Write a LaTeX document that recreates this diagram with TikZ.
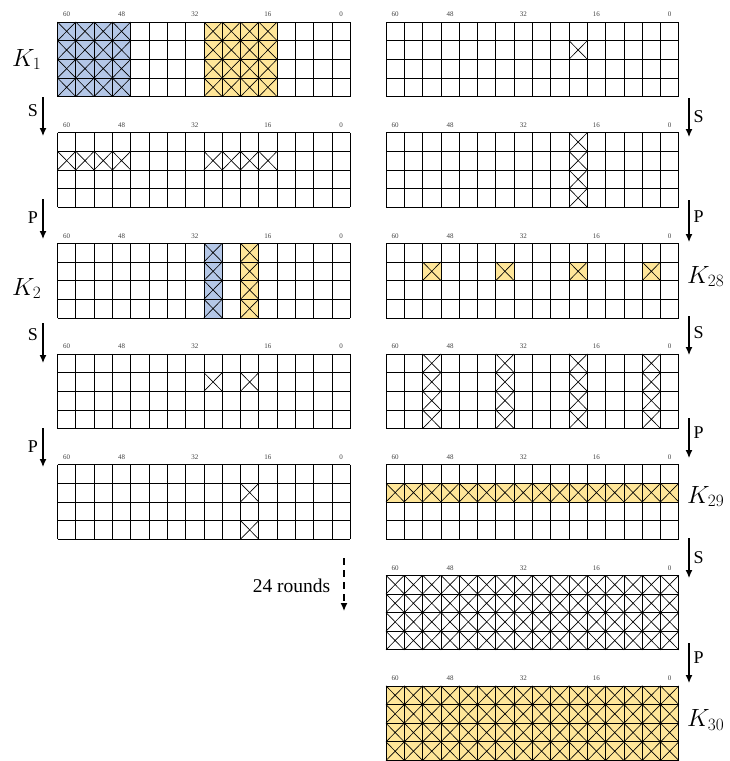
\documentclass[tikz,border=0pt]{standalone}
\usepackage{fontspec}
\setmainfont{Liberation Serif}
\usetikzlibrary{arrows.meta}
\definecolor{kblue}{HTML}{B4C7E7}
\definecolor{kyellow}{HTML}{FFE699}
\newcommand\gcw{18.3}
\newcommand\gch{18.65}
\tikzset{
  gl/.style={draw=black, line width=0.8pt},
  xl/.style={draw=black, line width=0.65pt},
  bitlbl/.style={inner sep=0pt, font=\fontsize{7}{8}\selectfont, text=black!75},
  oplbl/.style={inner sep=0pt, font=\fontsize{18}{20}\selectfont},
  klbl/.style={inner sep=0pt, anchor=base west, font=\fontsize{24}{27}\selectfont},
  flow/.style={line width=1.2pt, -{Latex[length=8pt,width=7pt]}},
  dflow/.style={line width=1.2pt, dash pattern=on 7pt off 5pt, -{Latex[length=8pt,width=7pt]}},
}
\newcommand\gridframe[3]{%
  \foreach \i in {0,...,16} \draw[gl] ({#2+\i*\gcw},{#3}) -- ({#2+\i*\gcw},{#3+4*\gch});
  \foreach \j in {0,...,4} \draw[gl] ({#2},{#3+\j*\gch}) -- ({#2+16*\gcw},{#3+\j*\gch});
  \foreach \c/\t in {0/60,3/48,7/32,11/16,15/0}
    \node[bitlbl] (#1-\t) at ({#2+(\c+0.5)*\gcw},{#3-7.5}) {\t};
}
\newcommand\xcell[4]{%
  \draw[xl] ({#1+#3*\gcw},{#2+#4*\gch}) -- ++(\gcw,\gch) ++(0,-\gch) -- ++(-\gcw,\gch);
}
\newcommand\fcell[5]{%
  \fill[#5] ({#1+#3*\gcw},{#2+#4*\gch}) rectangle ++(\gcw,\gch);
}
\begin{document}
\begin{tikzpicture}[x=1pt,y=-1pt]
\useasboundingbox (0,0) rectangle (729,761);
% ---------- fills ----------
\foreach \r in {0,...,3} {
  \foreach \c in {0,...,3} {\fcell{57.5}{22}{\c}{\r}{kblue}}
  \foreach \c in {8,...,11} {\fcell{57.5}{22}{\c}{\r}{kyellow}}
  \fcell{57.5}{243.3}{8}{\r}{kblue}
  \fcell{57.5}{243.3}{10}{\r}{kyellow}
}
\foreach \c in {2,6,10,14} {\fcell{386}{243.3}{\c}{1}{kyellow}}
\foreach \c in {0,...,15} {\fcell{386}{464.6}{\c}{1}{kyellow}}
\foreach \r in {0,...,3} {\foreach \c in {0,...,15} {\fcell{386}{685.9}{\c}{\r}{kyellow}}}
% ---------- frames ----------
\gridframe{La}{57.5}{22}
\gridframe{Lb}{57.5}{132.65}
\gridframe{Lc}{57.5}{243.3}
\gridframe{Ld}{57.5}{353.95}
\gridframe{Le}{57.5}{464.6}
\gridframe{Ra}{386}{22}
\gridframe{Rb}{386}{132.65}
\gridframe{Rc}{386}{243.3}
\gridframe{Rd}{386}{353.95}
\gridframe{Re}{386}{464.6}
\gridframe{Rf}{386}{575.25}
\gridframe{Rg}{386}{685.9}
% ---------- crosses ----------
\foreach \r in {0,...,3} {
  \foreach \c in {0,...,3,8,9,10,11} {\xcell{57.5}{22}{\c}{\r}}
  \xcell{57.5}{243.3}{8}{\r}
  \xcell{57.5}{243.3}{10}{\r}
  \xcell{386}{132.65}{10}{\r}
  \foreach \c in {2,6,10,14} {\xcell{386}{353.95}{\c}{\r}}
  \foreach \c in {0,...,15} {\xcell{386}{575.25}{\c}{\r}\xcell{386}{685.9}{\c}{\r}}
}
\foreach \c in {0,...,3,8,9,10,11} {\xcell{57.5}{132.65}{\c}{1}}
\xcell{57.5}{353.95}{8}{1}
\xcell{57.5}{353.95}{10}{1}
\xcell{57.5}{464.6}{10}{1}
\xcell{57.5}{464.6}{10}{3}
\xcell{386}{22}{10}{1}
\foreach \c in {2,6,10,14} {\xcell{386}{243.3}{\c}{1}}
\foreach \c in {0,...,15} {\xcell{386}{464.6}{\c}{1}}
% ---------- K labels ----------
\node[klbl] (K1) at (12,66) {$K_{1}$};
\node[klbl] (K2) at (12,295) {$K_{2}$};
\node[klbl] (K28) at (687,283) {$K_{28}$};
\node[klbl] (K29) at (687,503) {$K_{29}$};
\node[klbl] (K30) at (687,726.5) {$K_{30}$};
% ---------- left arrows ----------
\coordinate (lS1a) at (43,97);  \coordinate (lS1b) at (43,136);
\coordinate (lP1a) at (43,199); \coordinate (lP1b) at (43,239);
\coordinate (lS2a) at (43,323); \coordinate (lS2b) at (43,363);
\coordinate (lP2a) at (43,428); \coordinate (lP2b) at (43,467);
\draw[flow] (lS1a) -- (lS1b);
\draw[flow] (lP1a) -- (lP1b);
\draw[flow] (lS2a) -- (lS2b);
\draw[flow] (lP2a) -- (lP2b);
\node[oplbl] (lS1t) at (33,110.7) {S};
\node[oplbl] (lP1t) at (33,218) {P};
\node[oplbl] (lS2t) at (33,335) {S};
\node[oplbl] (lP2t) at (33,447) {P};
% ---------- right arrows ----------
\coordinate (rS1a) at (689,98);  \coordinate (rS1b) at (689,137);
\coordinate (rP1a) at (689,200); \coordinate (rP1b) at (689,242);
\coordinate (rS2a) at (689,316); \coordinate (rS2b) at (689,355);
\coordinate (rP2a) at (689,418); \coordinate (rP2b) at (689,458);
\coordinate (rS3a) at (689,538); \coordinate (rS3b) at (689,578);
\coordinate (rP3a) at (689,643); \coordinate (rP3b) at (689,683);
\draw[flow] (rS1a) -- (rS1b);
\draw[flow] (rP1a) -- (rP1b);
\draw[flow] (rS2a) -- (rS2b);
\draw[flow] (rP2a) -- (rP2b);
\draw[flow] (rS3a) -- (rS3b);
\draw[flow] (rP3a) -- (rP3b);
\node[oplbl] (rS1t) at (698.5,116.7) {S};
\node[oplbl] (rP1t) at (698.5,216.7) {P};
\node[oplbl] (rS2t) at (698.5,333) {S};
\node[oplbl] (rP2t) at (698.5,433) {P};
\node[oplbl] (rS3t) at (698.5,558) {S};
\node[oplbl] (rP3t) at (698.5,658) {P};
% ---------- 24 rounds ----------
\coordinate (dra) at (344,558); \coordinate (drb) at (344,611);
\draw[dflow] (dra) -- (drb);
\node[oplbl, anchor=east, font=\fontsize{19.5}{22}\selectfont] (rounds) at (330.5,586) {24 rounds};
\end{tikzpicture}
\end{document}
